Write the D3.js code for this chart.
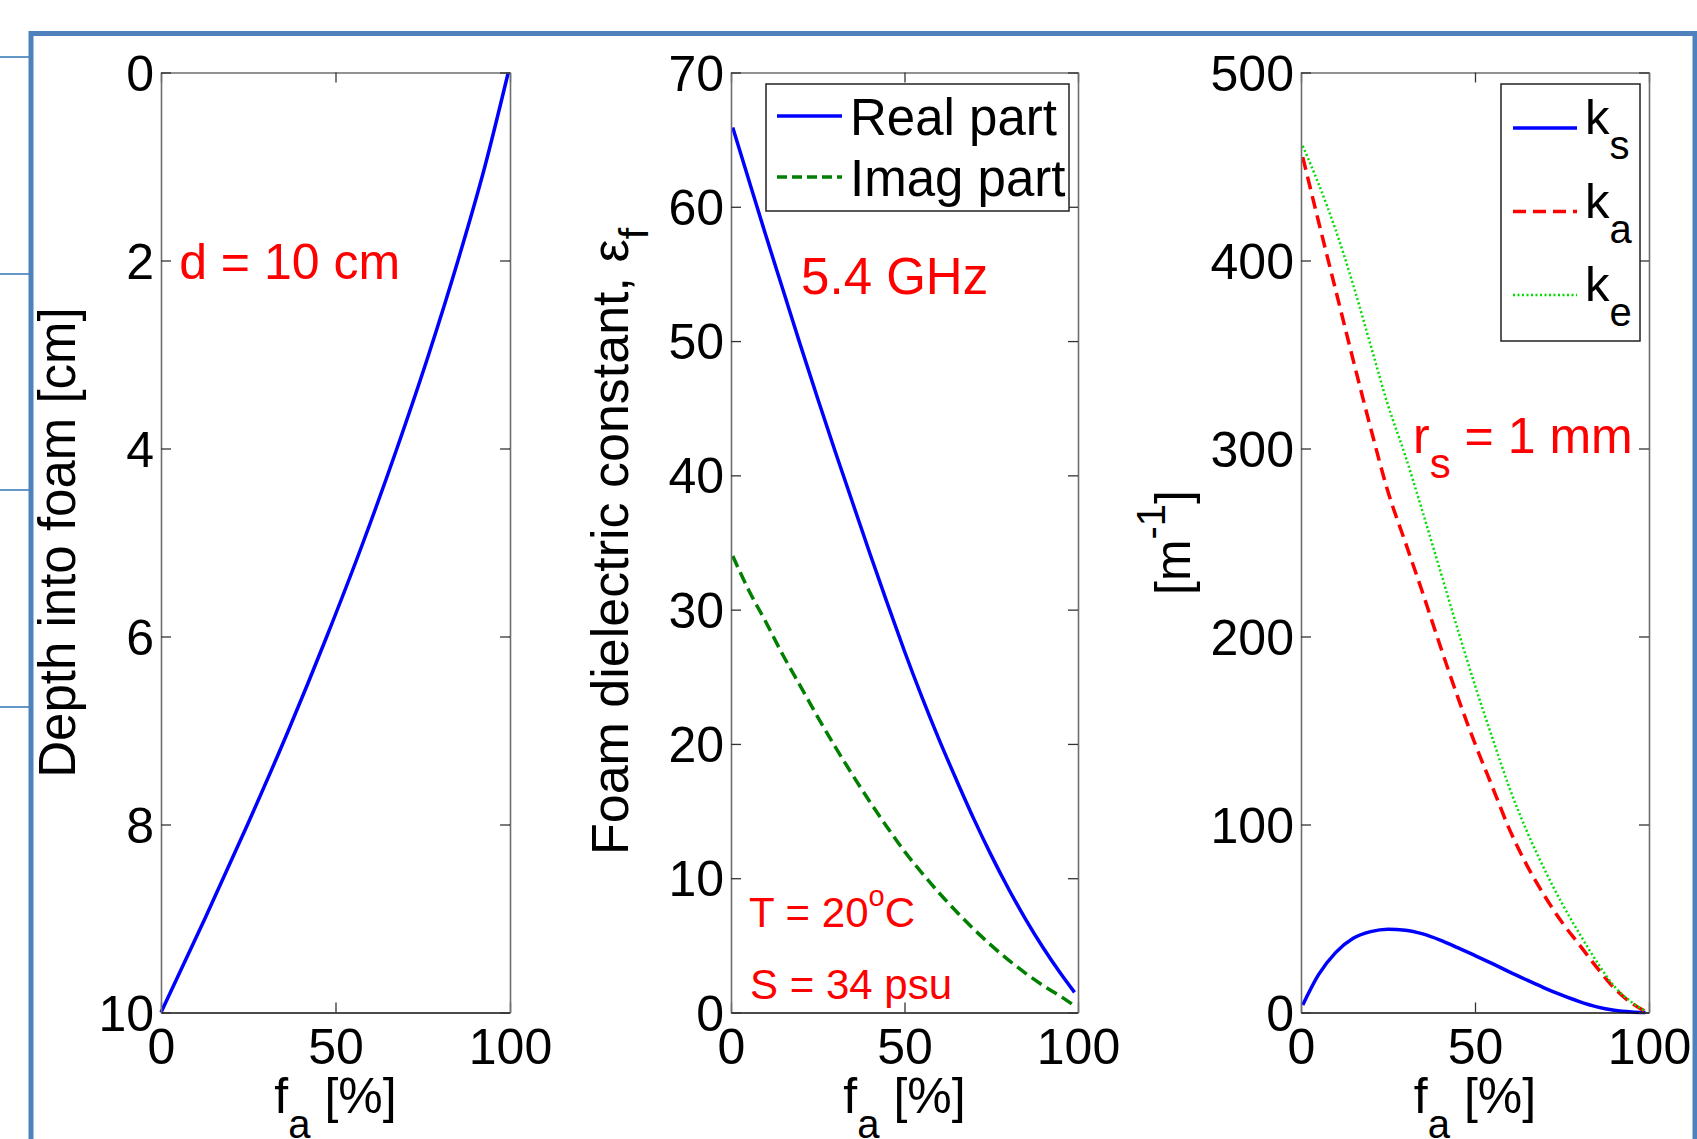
<!DOCTYPE html>
<html>
<head>
<meta charset="utf-8">
<script src="https://cdn.jsdelivr.net/npm/d3@7"></script>
<style>
  html, body { margin: 0; padding: 0; background: #fff; }
  svg { display: block; }
</style>
</head>
<body>
<svg id="fig" width="1697" height="1139"></svg>
<script>
// ---------- data ----------
// Panel 1: air fraction profile through a 10 cm foam layer
const depthCm = [10, 9, 8, 7, 6, 5, 4, 3, 2, 1, 0];
const depthFa = [0, 12.6, 24.8, 36.5, 47.5, 57.9, 67.6, 76.7, 85.1, 92.8, 99.5];

// Panel 2: foam dielectric constant vs air fraction (5.4 GHz)
const epsFa   = [0.5, 5, 10, 15, 20, 25, 30, 35, 40, 45, 50, 55, 60, 65, 70, 75, 80, 85, 90, 95, 99];
const epsReal = [65.9, 62.1, 57.9, 53.8, 49.7, 45.7, 41.8, 38.0, 34.2, 30.5, 26.9, 23.5, 20.3, 17.3, 14.4, 11.7, 9.2, 6.9, 4.8, 2.9, 1.5];
const epsImag = [34.0, 31.5, 29.1, 26.6, 24.3, 22.0, 19.8, 17.7, 15.7, 13.8, 12.0, 10.4, 8.9, 7.5, 6.2, 5.0, 3.9, 2.9, 2.0, 1.2, 0.5];
const epsNames = ["Real part", "Imag part"];

// Panel 3: scattering, absorption and extinction coefficients [1/m]
const kFa = [0.5, 5, 10, 15, 20, 25, 30, 35, 40, 45, 50, 55, 60, 65, 70, 75, 80, 85, 90, 95, 99];
const kS  = [4, 20, 32, 39.5, 43, 44.3, 43.8, 41.8, 38.5, 34.5, 30.3, 26, 21.5, 17.2, 13, 9.2, 5.8, 3, 1.2, 0.3, 0];
const kA  = [455, 421, 384, 347, 311, 277, 250, 223, 195, 168, 143, 120, 97, 78, 62, 48, 36, 24, 13, 5, 0.5];
const kE  = [461, 441, 416, 387, 355, 323, 296, 266, 235, 204, 174, 146, 119, 96, 76, 58, 42, 27, 14, 5.5, 0.6];
const kSubs = ["s", "a", "e"];

// tick values
const faTicks = [0, 50, 100];
const depthTicks = [0, 2, 4, 6, 8, 10];
const epsTicks = [0, 10, 20, 30, 40, 50, 60, 70];
const kTicks = [0, 100, 200, 300, 400, 500];

// ---------- layout ----------
const W = 1697, H = 1139;
const FONT = '"Liberation Sans", Arial, Helvetica, sans-serif';
const TOP = 72.5, BOT = 1012.5;
const P1 = [161, 510], P2 = [731, 1078], P3 = [1301, 1649];

const svg = d3.select("#fig").attr("font-family", FONT);
svg.append("rect").attr("width", W).attr("height", H).attr("fill", "#fff");

// slide decorations: short guide rules on the left and the blue picture frame
[57, 274, 490, 707].forEach(yy => {
  svg.append("line").attr("x1", 0).attr("x2", 30).attr("y1", yy).attr("y2", yy)
    .attr("stroke", "#2E75B6").attr("stroke-width", 1.5);
});
svg.append("path").attr("d", "M31,1160 V33.5 H1695 V1160")
  .attr("fill", "none").attr("stroke", "#4F81BD").attr("stroke-width", 5);

// ---------- helpers ----------
function axes(g, x, y, xTicks, yTicks) {
  const [x0, x1] = x.range();
  const fmt = d3.format("d");
  const style = s => s.attr("font-family", FONT).attr("font-size", 50).attr("color", "#000");
  const gB = g.append("g").attr("transform", `translate(0,${BOT})`)
    .call(d3.axisBottom(x).tickValues(xTicks).tickFormat(fmt).tickSizeInner(-10).tickSizeOuter(0).tickPadding(16))
    .call(style);
  const gT = g.append("g").attr("transform", `translate(0,${TOP})`)
    .call(d3.axisTop(x).tickValues(xTicks).tickFormat(() => "").tickSizeInner(-10).tickSizeOuter(0));
  const gL = g.append("g").attr("transform", `translate(${x0},0)`)
    .call(d3.axisLeft(y).tickValues(yTicks).tickFormat(fmt).tickSizeInner(-10).tickSizeOuter(0).tickPadding(7))
    .call(style);
  const gR = g.append("g").attr("transform", `translate(${x1},0)`)
    .call(d3.axisRight(y).tickValues(yTicks).tickFormat(() => "").tickSizeInner(-10).tickSizeOuter(0));
  gB.select(".domain").attr("stroke", "#111").attr("stroke-width", 1.6);
  [gT, gL, gR].forEach(a => a.select(".domain").attr("stroke", "#6e6e6e").attr("stroke-width", 1.6));
  g.selectAll(".tick line").attr("stroke", "#333").attr("stroke-width", 1.3);
  gL.selectAll(".tick text").attr("dy", "0.35em");
}

function xLabel(g, x) {
  const [x0, x1] = x.range();
  const t = g.append("text").attr("x", (x0 + x1) / 2).attr("y", 1113)
    .attr("text-anchor", "middle").attr("font-size", 50).attr("fill", "#000");
  t.append("tspan").text("f");
  t.append("tspan").attr("font-size", 40).attr("dy", 25).text("a");
  t.append("tspan").attr("dy", -25).text(" [%]");
}

function curve(g, x, y, xs, ys, color, width, dash) {
  const pts = xs.map((v, i) => [v, ys[i]]);
  const line = d3.line().x(d => x(d[0])).y(d => y(d[1])).curve(d3.curveMonotoneX);
  g.append("path").attr("d", line(pts)).attr("fill", "none")
    .attr("stroke", color).attr("stroke-width", width)
    .attr("stroke-dasharray", dash || null).attr("stroke-linejoin", "round");
}

function redText(g, px, py, size) {
  return g.append("text").attr("x", px).attr("y", py).attr("font-size", size).attr("fill", "#ff0000");
}

// ---------- panel 1: depth profile ----------
{
  const g = svg.append("g");
  const x = d3.scaleLinear().domain([0, 100]).range(P1);
  const y = d3.scaleLinear().domain([0, 10]).range([TOP, BOT]);
  curve(g, x, y, depthFa, depthCm, "#0000ff", 3.5);
  axes(g, x, y, faTicks, depthTicks);
  xLabel(g, x);
  g.append("text").attr("transform", `translate(75,${(TOP + BOT) / 2}) rotate(-90)`)
    .attr("text-anchor", "middle").attr("font-size", 51).text("Depth into foam [cm]");
  redText(g, x(5.2), y(2.2), 50).text("d = 10 cm");
}

// ---------- panel 2: dielectric constant ----------
{
  const g = svg.append("g");
  const x = d3.scaleLinear().domain([0, 100]).range(P2);
  const y = d3.scaleLinear().domain([0, 70]).range([BOT, TOP]);
  curve(g, x, y, epsFa, epsReal, "#0000ff", 3.5);
  curve(g, x, y, epsFa, epsImag, "#007f00", 3.5, "12,6");
  axes(g, x, y, faTicks, epsTicks);
  xLabel(g, x);
  const yl = g.append("text").attr("transform", `translate(628,855) rotate(-90)`)
    .attr("text-anchor", "start").attr("font-size", 52);
  yl.append("tspan").text("Foam dielectric constant, \u03B5");
  yl.append("tspan").attr("font-size", 41).attr("dy", 20).text("f");

  // legend
  const lg = g.append("g");
  lg.append("rect").attr("x", 766).attr("y", 84).attr("width", 303).attr("height", 127)
    .attr("fill", "#fff").attr("stroke", "#222").attr("stroke-width", 1.5);
  const styles = [["#0000ff", null], ["#007f00", "10,5"]];
  epsNames.forEach((name, i) => {
    const ly = 116 + i * 61;
    lg.append("line").attr("x1", 777).attr("x2", 842).attr("y1", ly).attr("y2", ly)
      .attr("stroke", styles[i][0]).attr("stroke-width", 3.5).attr("stroke-dasharray", styles[i][1]);
    lg.append("text").attr("x", 850).attr("y", ly + 19).attr("font-size", 51).text(name);
  });

  redText(g, x(20.2), y(53.5), 51).text("5.4 GHz");
  const t = redText(g, x(5.2), y(6.4), 42);
  t.append("tspan").text("T = 20");
  t.append("tspan").attr("font-size", 29).attr("dy", -21).text("o");
  t.append("tspan").attr("dy", 21).text("C");
  redText(g, x(5.5), y(1.0), 42).text("S = 34 psu");
}

// ---------- panel 3: k coefficients ----------
{
  const g = svg.append("g");
  const x = d3.scaleLinear().domain([0, 100]).range(P3);
  const y = d3.scaleLinear().domain([0, 500]).range([BOT, TOP]);
  const styles = [["#0000ff", 3.5, null], ["#ff0000", 3.5, "13,7"], ["#00dd00", 2.5, "2,2.5"]];
  [kS, kA, kE].forEach((ys, i) => curve(g, x, y, kFa, ys, styles[i][0], styles[i][1], styles[i][2]));
  axes(g, x, y, faTicks, kTicks);
  xLabel(g, x);
  const yl = g.append("text").attr("transform", `translate(1190,${(TOP + BOT) / 2}) rotate(-90)`)
    .attr("text-anchor", "middle").attr("font-size", 50);
  yl.append("tspan").text("[m");
  yl.append("tspan").attr("font-size", 40).attr("dy", -25).text("-1");
  yl.append("tspan").attr("dy", 25).text("]");

  const lg = g.append("g");
  lg.append("rect").attr("x", 1501).attr("y", 84).attr("width", 139).attr("height", 257)
    .attr("fill", "#fff").attr("stroke", "#222").attr("stroke-width", 1.5);
  kSubs.forEach((s, i) => {
    const ly = 128 + i * 83.5;
    lg.append("line").attr("x1", 1513).attr("x2", 1577).attr("y1", ly).attr("y2", ly)
      .attr("stroke", styles[i][0]).attr("stroke-width", styles[i][1]).attr("stroke-dasharray", styles[i][2]);
    const t = lg.append("text").attr("x", 1585).attr("y", ly + 6).attr("font-size", 49);
    t.append("tspan").text("k");
    t.append("tspan").attr("font-size", 40).attr("dy", 25).text(s);
  });

  const r = redText(g, x(32.2), y(297.6), 50);
  r.append("tspan").text("r");
  r.append("tspan").attr("font-size", 42).attr("dy", 25).text("s");
  r.append("tspan").attr("dy", -25).text(" = 1 mm");
}
</script>
</body>
</html>
